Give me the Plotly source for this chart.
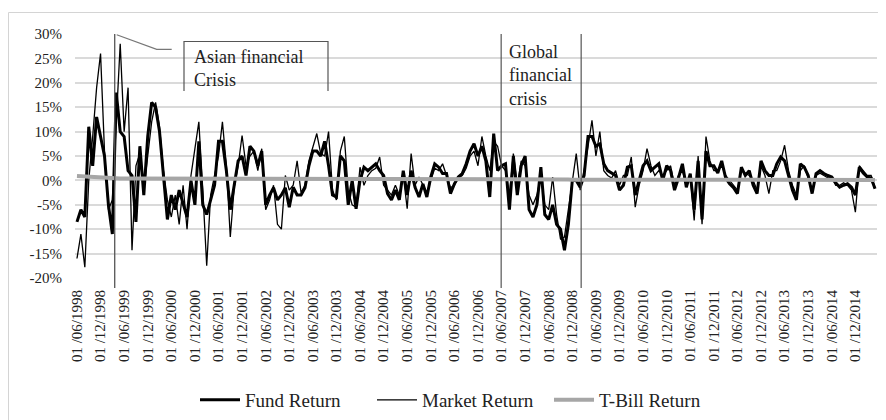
import plotly.graph_objects as go

# Monthly returns (%) from 01/06/1998 to 01/05/2015
fund = [
    -8.5, -6, -7.5, 11, 3, 13, 9, 5, -5, -11, 18, 10,
    9, 2, 1, -8.5, 7, -3, 9, 16, 15, 10, 1, -8,
    -3, -6, -2, -5, -7.5, 0, -5, 8, -5, -7, -4, -1,
    8, 8, 2, -6, -1, 4, 5, 1, 7, 6, 3, 6,
    -5, -3, -1.5, -4, -3, -1.5, -5.5, -1.4, -3, -3, -1.5, 3,
    6, 6, 5, 8, 3, -3, -3.4, 5, 4, -5, 0, -5.8,
    0, 2.7, 2, 2.7, 3.4, 2, 1, -2.7, -4, -2, -4, 2,
    -3, 2, -1.4, -3.4, -0.7, -3.4, 0.7, 3.4, 2.7, 1.4, 1.4, -2.7,
    -0.7, 0.7, 1.4, 3.4, 6, 7.5, 5, 7, 4, -3.4, 9.6, 2,
    3, 3.4, -6, 5, -3, 3, 5, -6, -7.5, -5, 2.7, -7,
    -8, -5, -9, -10, -14.3, -9, 0, 0, -1.4, 1, 9, 9,
    7, 7.5, 3.4, 2, 1.5, 1, -2, -1, 2.7, 3, -3, 0,
    3, 4, 2, 2.7, 3.4, 0, 3, 2, -2, 0.5, 3.4, -1.4,
    1.4, -6, 4, -8, 6, 3, 3, 1.5, 4, 0.5, -0.7, -1.5,
    -2.7, 2.7, 1, 2, -1, -2.7, 4, 2, 1, 1, 3.4, 4.8,
    4, 1, -2, -4, 3.4, 2.7, 1, -2.7, 1.4, 2, 1.4, 1,
    0.7, -0.5, -1.4, -1, -0.7, -1.4, -3, 2.7, 1.5, 0.7, 0.5, -1.7,
]

market = [
    -16, -11, -17.8, 0, 9, 19, 26, 6, -6, -4, 12, 28,
    10, 19, -14.3, 3, 5.5, -2, 5, 12, 16, 11, 2, -4,
    -7.5, -3, -9, -1, -10, 1, 6.5, 12, -2, -17.5, -3, 1,
    5, 12, 3, -11.6, -1.4, 3, 9.2, 3, 5, 6, 2, 6.5,
    -6, -4, -1, -9, -10, 1, -2, -1, 4, -2.5, -1, 4,
    7, 9.6, 5.5, 5, 10, -2, -4, 6, 9, -2, -5, -5.5,
    2.7, -1, 1, 2, 2.5, 4.8, -1, -2, -3, -1, -3, 1,
    -5.8, 5.5, -1, 0.7, -1, -2.5, 0, 2.5, 2, 3.4, 1, -1.5,
    -1, 0.5, 1, 2.5, 5, 6, 3, 9, 5, 2, 8, 7,
    3, 2, -3, 5.5, -1, 4, 3, -3, -5, -3, 1, -5,
    -6, 0.7, -7, -12, -11.6, -6, -1, 5.5, -2, 2, 7, 12.3,
    5, 10, 2, 1, 0.5, 2, -1, 1, 1, 4.8, -5.5, -1,
    2, 6.5, 3, 1, 2, 1, 2, 3, -1, 1, 2, -1,
    1, -8.2, 5, -9, 9, 4, 2, 2, 3, 1, 0, -1,
    -2, 2, 1.5, 1, 0, -2, 3, 1, -2.7, 2, 2, 4,
    7.2, 2, -1, -3, 2, 3, 0.5, -2, 1, 1.5, 1, 0.5,
    0.5, -1, -1, -0.5, -1, -2, -6.5, 3, 2, 1, 1, -1.5,
]

tbill = [
    0.9, 0.85, 0.8, 0.7, 0.6, 0.5, 0.45, 0.4, 0.4, 0.4, 0.4, 0.4,
    0.4, 0.4, 0.4, 0.4, 0.4, 0.4, 0.4, 0.4, 0.4, 0.4, 0.4, 0.4,
    0.4, 0.4, 0.4, 0.4, 0.4, 0.4, 0.35, 0.35, 0.35, 0.35, 0.35, 0.35,
    0.35, 0.35, 0.35, 0.35, 0.35, 0.35, 0.35, 0.35, 0.35, 0.35, 0.35, 0.35,
    0.3, 0.3, 0.3, 0.3, 0.3, 0.3, 0.3, 0.3, 0.3, 0.3, 0.3, 0.3,
    0.3, 0.3, 0.3, 0.3, 0.3, 0.3, 0.3, 0.3, 0.3, 0.3, 0.3, 0.3,
    0.3, 0.3, 0.3, 0.3, 0.3, 0.3, 0.3, 0.3, 0.3, 0.3, 0.3, 0.3,
    0.3, 0.3, 0.3, 0.3, 0.3, 0.3, 0.3, 0.3, 0.3, 0.3, 0.3, 0.3,
    0.3, 0.3, 0.3, 0.3, 0.3, 0.3, 0.3, 0.3, 0.3, 0.3, 0.3, 0.3,
    0.3, 0.3, 0.3, 0.3, 0.3, 0.3, 0.3, 0.3, 0.3, 0.3, 0.3, 0.3,
    0.3, 0.3, 0.3, 0.3, 0.3, 0.2, 0.15, 0.15, 0.1, 0.1, 0.1, 0.1,
    0.1, 0.1, 0.1, 0.1, 0.1, 0.1, 0.1, 0.1, 0.1, 0.1, 0.1, 0.1,
    0.1, 0.1, 0.1, 0.1, 0.1, 0.1, 0.1, 0.1, 0.1, 0.1, 0.1, 0.1,
    0.1, 0.1, 0.1, 0.1, 0.1, 0.1, 0.1, 0.1, 0.1, 0.1, 0.1, 0.1,
    0.1, 0.1, 0.1, 0.1, 0.1, 0.1, 0.1, 0.1, 0.1, 0.1, 0.1, 0.1,
    0.1, 0.1, 0.1, 0.1, 0.1, 0.1, 0.1, 0.1, 0.1, 0.1, 0.1, 0.1,
    0.1, 0.1, 0.1, 0.1, 0.1, 0.1, 0.1, 0.1, 0.1, 0.1, 0.1, 0.1,
]

x_labels = [
    "01 /06/1998", "01 /12/1998", "01 /06/1999", "01 /12/1999", "01 /06/2000",
    "01 /12/2000", "01 /06/2001", "01 /12/2001", "01 /06/2002", "01 /12/2002",
    "01 /06/2003", "01 /12/2003", "01 /06/2004", "01 /12/2004", "01 /06/2005",
    "01 /12/2005", "01 /06/2006", "01 /12/2006", "01 /06/2007", "01 /12/2007",
    "01 /06/2008", "01 /12/2008", "01 /06/2009", "01 /12/2009", "01 /06/2010",
    "01 /12/2010", "01 /06/2011", "01 /12/2011", "01 /06/2012", "01 /12/2012",
    "01 /06/2013", "01 /12/2013", "01 /06/2014", "01 /12/2014",
]
y_vals = [-20, -15, -10, -5, 0, 5, 10, 15, 20, 25, 30]
y_labels = ["-20%", "-15%", "-10%", "-5%", "0%", "5%", "10%", "15%", "20%", "25%", "30%"]

months = list(range(len(fund)))
tick_pos = [6 * k for k in range(len(x_labels))]

FONT = "Liberation Serif"

fig = go.Figure()
fig.add_trace(go.Scatter(x=months, y=fund, mode="lines", name="Fund Return",
                         line=dict(color="black", width=3)))
fig.add_trace(go.Scatter(x=months, y=market, mode="lines", name="Market Return",
                         line=dict(color="black", width=1.3)))
fig.add_trace(go.Scatter(x=months, y=tbill, mode="lines", name="T-Bill Return",
                         line=dict(color="#a6a6a6", width=4)))

# page body has an 8px margin; the figure is sized to fit the window
OFF = 8
W, H = 886 - OFF, 420 - OFF

# pixel helpers (page pixels) -> paper coordinates (plot area 75..877 x 34..278 on page)
def xp(px):
    return (px - 75) / 802.0

def yp(py):
    return (278 - py) / 244.0

line_col = "#555555"
shapes = [
    # chart border
    dict(type="rect", xref="paper", yref="paper", x0=xp(8.5), x1=xp(895), y0=yp(430), y1=yp(12.5),
         line=dict(color="#d4d4d4", width=1), layer="below"),
    # Asian crisis marker
    dict(type="line", xref="x", yref="paper", x0=9.6, x1=9.6, y0=yp(288), y1=1.0,
         line=dict(color=line_col, width=1.3)),
    dict(type="path", xref="paper", yref="paper",
         path=f"M {xp(116.7)},{yp(34.7)} L {xp(156.7)},{yp(49.3)} L {xp(171.7)},{yp(49.3)}",
         line=dict(color="#777777", width=1.2)),
    dict(type="path", xref="paper", yref="paper",
         path=f"M {xp(184)},{yp(91)} L {xp(184)},{yp(41.5)} L {xp(328)},{yp(41.5)} L {xp(328)},{yp(91)}",
         line=dict(color=line_col, width=1.2)),
    # Global crisis markers
    dict(type="line", xref="x", yref="paper", x0=107.9, x1=107.9, y0=yp(288), y1=1.0,
         line=dict(color=line_col, width=1.2)),
    dict(type="line", xref="x", yref="paper", x0=128.25, x1=128.25, y0=yp(288), y1=1.0,
         line=dict(color=line_col, width=1.2)),
]

annotations = [
    dict(xref="paper", yref="paper", x=xp(192), y=yp(45), xanchor="left", yanchor="top",
         text="Asian financial<br>Crisis", showarrow=False, align="left",
         font=dict(family=FONT, size=18, color="#222")),
    dict(xref="paper", yref="paper", x=xp(507), y=yp(40), xanchor="left", yanchor="top",
         text="Global<br>financial<br>crisis", showarrow=False, align="left",
         font=dict(family=FONT, size=18, color="#222")),
]

fig.update_layout(
    width=W, height=H,
    margin=dict(l=75 - OFF, r=W - (877 - OFF), t=34 - OFF, b=H - (278 - OFF), autoexpand=False),
    paper_bgcolor="white", plot_bgcolor="white",
    font=dict(family=FONT, color="#222", size=15),
    showlegend=True,
    legend=dict(orientation="h", xref="container", x=(195 - OFF) / W, xanchor="left",
                yref="container", y=(420 - 400) / H, yanchor="middle",
                font=dict(family=FONT, size=19, color="#222"), itemwidth=40,
                entrywidth=122, entrywidthmode="pixels",
                bgcolor="rgba(0,0,0,0)"),
    shapes=shapes,
    annotations=annotations,
    xaxis=dict(range=[-0.5, 203.5], tickmode="array", tickvals=tick_pos, ticktext=x_labels,
               tickangle=-90, showgrid=False, zeroline=False, showline=False, ticks="",
               automargin=False,
               tickfont=dict(family=FONT, size=15, color="#222"), ticklabelstandoff=8),
    yaxis=dict(range=[-20, 30], tickmode="array", tickvals=y_vals, ticktext=y_labels,
               showgrid=True, gridcolor="#dadada", gridwidth=1.5, zeroline=False,
               showline=False, ticks="", automargin=False,
               tickfont=dict(family=FONT, size=15, color="#222"), ticklabelstandoff=12),
)

fig.write_html("out.html")
